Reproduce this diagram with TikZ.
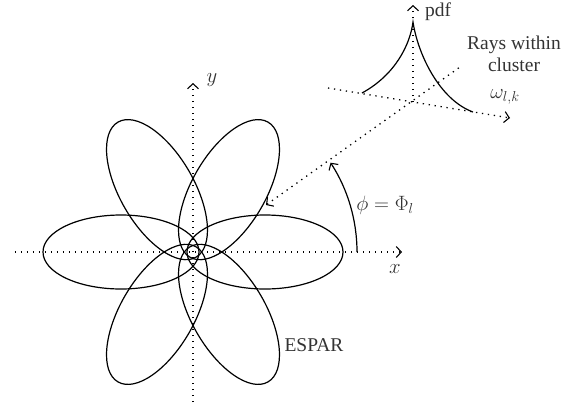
\documentclass[tikz,border=0pt]{standalone}
\usepackage{fontspec}
\setmainfont{Liberation Serif}
\usetikzlibrary{arrows.meta}
\begin{document}
\begin{tikzpicture}[x=1pt,y=1pt,
  lobe/.style={line width=1.2pt},
  dotline/.style={line width=1.3pt, dash pattern=on 1.3pt off 4.7pt, line cap=butt},
  barb/.tip={Straight Barb[length=5pt,width=11pt,line width=1.1pt]},
  lbl/.style={inner sep=0pt, font=\fontsize{19.5}{22}\selectfont, text=black!80}]
\useasboundingbox (-193,-156) rectangle (387,252);
\coordinate (O) at (0,0);
% axes
\coordinate (xl) at (-178,0);
\coordinate (xr) at (209,0);
\coordinate (yb) at (0,-150);
\coordinate (yt) at (0,169);
\draw[dotline,-{barb}] (xl) -- (xr);
\draw[dotline,-{barb}] (yb) -- (yt);
\node[lbl] (xlab) at (202,-17) {$x$};
\node[lbl] (ylab) at (19,172) {$y$};
% lobes
\foreach \t in {0,60,120,180,240,300}{
  \draw[lobe, rotate around={\t:(O)}] (72,0) ellipse [x radius=78, y radius=37];
}
\node[lbl] (espar) at (121,-93) {ESPAR};
% ray
\coordinate (rs) at (73,47);
\coordinate (re) at (267,185);
\draw[dotline,{barb}-] (rs) -- (re);
% angle arc
\coordinate (as) at (164,0);
\draw[line width=1.2pt,-{barb}] (as) arc[start angle=0,end angle=33,radius=164];
\node[lbl] (phi) at (192,47) {$\phi=\Phi_l$};
% pdf axes
\coordinate (C) at (220,150);
\coordinate (pt) at (220,247);
\coordinate (wl) at (135,164);
\coordinate (wr) at (317,134);
\draw[dotline,-{barb}] (C) -- (pt);
\draw[dotline,-{barb}] (wl) -- (wr);
\node[lbl] (pdf) at (245,240) {pdf};
\node[lbl] (om) at (312,155) {$\omega_{l,k}$};
\node[lbl, align=center] (rays) at (321,198) {Rays within\\cluster};
% pdf curve
\coordinate (cl) at (169,159);
\coordinate (cp) at (220,230);
\coordinate (cr) at (280,140);
\draw[lobe] (cl) .. controls (202,177) and (217,207) .. (cp)
                 .. controls (225,197) and (247,152) .. (cr);
\end{tikzpicture}
\end{document}
